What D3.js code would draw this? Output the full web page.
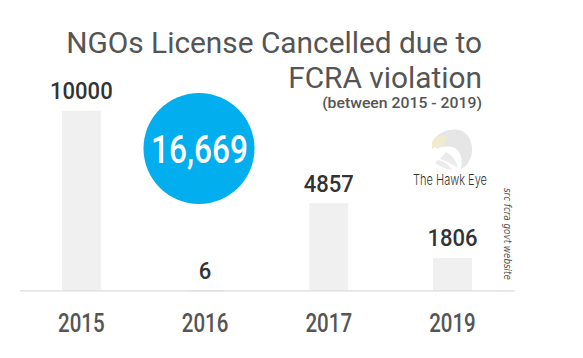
<!DOCTYPE html>
<html><head><meta charset="utf-8">
<script src="https://cdn.jsdelivr.net/npm/d3@7"></script>
<style>body{margin:0;background:#fff}svg{display:block}</style>
</head><body><svg id="c" width="583" height="358"></svg>
<script>
const categories = ["2015", "2016", "2017", "2019"];
const values = [10000, 6, 4857, 1806];
const totalLabel = "16,669";
const titleLines = ["NGOs License Cancelled due to", "FCRA violation"];
const subtitle = "(between 2015 - 2019)";
const sourceText = "src fcra govt website";
const brand = "The Hawk Eye";

const svg = d3.select("#c");
const F = "Roboto, 'DejaVu Sans', sans-serif";
const baseY = 290.3;
const x = d3.scaleBand().domain(categories).range([19.5, 514.3]).paddingInner(0.685).paddingOuter(0.3425);
const y = d3.scaleLinear().domain([0, 10000]).range([baseY, 110.7]);

function condense(sel, sx, anchor) {
  sel.each(function () {
    const t = d3.select(this);
    const ax = +t.attr("x"), ay = +t.attr("y");
    t.attr("x", 0).attr("y", 0).attr("text-anchor", anchor)
     .attr("transform", `translate(${ax},${ay}) scale(${sx},1)`);
  });
}
function fitWidth(sel, w, anchor) {
  sel.each(function () {
    const nat = this.getComputedTextLength();
    condense(d3.select(this), w / nat, anchor);
  });
}

// bars
svg.selectAll("rect.bar").data(values).join("rect").attr("class","bar")
  .attr("x",(d,i)=>x(categories[i])).attr("width",x.bandwidth())
  .attr("y",d=>y(d)).attr("height",d=>Math.max(1.5,baseY-y(d))).attr("fill","#f0f0f0");

// axis
const ax = svg.append("g").attr("transform",`translate(0,${baseY})`).call(d3.axisBottom(x).tickSize(0).tickPadding(0));
ax.select(".domain").attr("stroke","#dcdcdc").attr("stroke-width",1.2);
ax.selectAll(".tick text").attr("dy",0).attr("y",41.7).attr("fill","#555")
  .attr("text-anchor","middle").attr("transform","scale(0.82,1)")
  .style("font-family",F).style("font-size","25px").style("font-weight","500");

// value labels
const vl = svg.selectAll("text.val").data(values).join("text").attr("class","val")
  .attr("x",(d,i)=>x(categories[i])+x.bandwidth()/2).attr("y",d=>y(d)-11.5)
  .attr("fill","#333")
  .style("font-family",F).style("font-size","24.5px").style("font-weight","500")
  .text(d=>d);
condense(vl, 0.9, "middle");

// title
const tl = svg.selectAll("text.title").data(titleLines).join("text").attr("class","title")
  .attr("x",482).attr("y",(d,i)=>53+i*34.5).attr("fill","#555")
  .style("font-family",F).style("font-size","29.5px").style("font-weight","400")
  .text(d=>d);
const tScale = 416 / tl.nodes()[0].getComputedTextLength();
condense(tl, tScale, "end");
const st = svg.append("text").attr("x",482).attr("y",107.5).attr("fill","#555")
  .style("font-family",F).style("font-size","15px").style("font-weight","500").text(subtitle);
fitWidth(st, 160, "end");

// circle with total
svg.append("circle").attr("cx",199).attr("cy",148.5).attr("r",55.5).attr("fill","#03aeef");
const ct = svg.append("text").attr("x",199.5).attr("y",163).attr("fill","#fff")
  .style("font-family",F).style("font-size","39px").style("font-weight","500").text(totalLabel);
fitWidth(ct, 97, "middle");

// logo eagle (stylized)
const eg = svg.append("g");
eg.append("path").attr("d","M433,141 C437,133 449,128 459,130 C468,132 473,142 472,152 C471,160 467,166 461,169 C463,160 461,152 455,148 C449,146 442,146 437,149 Z")
  .attr("fill","#e6e6e6");
eg.append("path").attr("d","M432,142 C435,136 442,134 448,136 C446,139 444,143 444,147 C440,146 436,146 432,149 Z")
  .attr("fill","#f0eacf");
eg.append("path").attr("d","M446,152 C452,155 456,160 458,168 C452,164 447,161 440,159 Z M438,160 C445,162 450,166 452,170 C446,169 441,167 435,163 Z")
  .attr("fill","#ebebeb");
const bt = svg.append("text").attr("x",450).attr("y",185).attr("fill","#333")
  .style("font-family","Inter, 'DejaVu Sans', sans-serif").style("font-size","15px").style("font-weight","300").text(brand);
fitWidth(bt, 74, "middle");

// source
const sc = svg.append("text").attr("x",0).attr("y",0).attr("fill","#555")
  .style("font-family","'DejaVu Sans', sans-serif").style("font-size","10.5px").style("font-style","italic").text(sourceText);
const sl = sc.node().getComputedTextLength();
sc.attr("transform",`translate(504,188) rotate(90) scale(${92/sl},1)`);
</script></body></html>
